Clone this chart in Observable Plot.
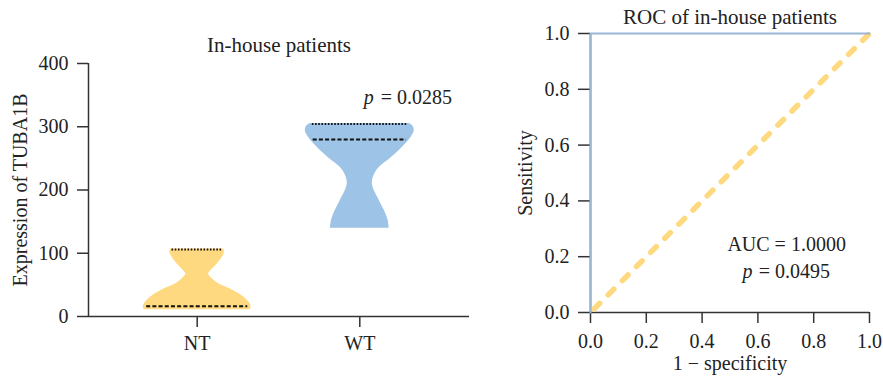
<!DOCTYPE html>
<html>
<head>
<meta charset="utf-8">
<script src="https://cdn.jsdelivr.net/npm/d3@7"></script>
<script src="https://cdn.jsdelivr.net/npm/@observablehq/plot@0.6"></script>
<style>
  html, body { margin: 0; padding: 0; background: #fff; }
  #wrap { position: relative; width: 883px; height: 381px; overflow: hidden; }
  #left, #right { position: absolute; top: 0; }
  #left { left: 0; }
  #right { left: 490px; }
</style>
</head>
<body>
<div id="wrap"><div id="left"></div><div id="right"></div></div>
<script>
// ---------- Data ----------
const categories = ["NT", "WT"];

// Violin outlines: expression values and relative density (1 = widest)
const ntValues  = [10.5, 15.8, 22.6, 27.9, 35.8, 43.6, 51.5, 59.4, 67.3, 75.2, 83.1, 93.6, 101, 106.7];
const ntDensity = [0.97, 0.99, 0.95, 0.89, 0.77, 0.61, 0.40, 0.28, 0.21, 0.28, 0.37, 0.46, 0.50, 0.49];
const wtValues  = [139.4, 151.6, 162.1, 172.6, 183.2, 196.3, 209.5, 222.6, 235.8, 249, 262.1, 272.6, 283.1, 293.7, 301.6, 305.2];
const wtDensity = [0.54, 0.52, 0.48, 0.42, 0.36, 0.28, 0.23, 0.26, 0.36, 0.55, 0.72, 0.84, 0.94, 1.0, 0.97, 0.91];

// Summary lines (dashed = median, dotted = upper quartile)
const medianValues = [16.3, 280];
const upperQuartileValues = [105.8, 304.2];

const yTicks = [0, 100, 200, 300, 400];
const pValueLeft = "0.0285";

// ROC
const rocFpr = [0, 0, 1];
const rocTpr = [0, 1, 1];
const chanceLine = [0, 1];
const rocTicks = [0, 0.2, 0.4, 0.6, 0.8, 1.0];
const aucText = "AUC = 1.0000";
const pValueRight = "0.0495";

// ---------- Helpers ----------
const yellow = "#FFD980";
const blue = "#9DC3E6";
const rocBlue = "#9AB6D5";
const axisColor = "#333";
const textColor = "#222";
const font = "'Liberation Serif', 'DejaVu Serif', serif";
const fs = 20;
const halfWidth = 0.335; // x-units for density 1

const profiles = [
  {values: ntValues, density: ntDensity, fill: yellow},
  {values: wtValues, density: wtDensity, fill: blue}
];

function densityAt(values, density, v) {
  if (v <= values[0]) return density[0];
  for (let i = 1; i < values.length; i++) {
    if (v <= values[i]) {
      const t = (v - values[i - 1]) / (values[i] - values[i - 1]);
      return density[i - 1] + t * (density[i] - density[i - 1]);
    }
  }
  return density[density.length - 1];
}

const violinRows = [];
profiles.forEach((p, i) => {
  p.values.forEach((v, j) => violinRows.push({cat: i + 1, value: v, d: p.density[j], fill: p.fill}));
});

function summaryRows(vals) {
  return vals.map((v, i) => {
    const p = profiles[i];
    const w = densityAt(p.values, p.density, v) * halfWidth * 0.94;
    return {cat: i + 1, value: v, x1: i + 1 - w, x2: i + 1 + w};
  });
}

const txt = {fill: textColor, fontSize: fs, lineAnchor: "middle"};
const ttl = {...txt, fontSize: 21};

// ---------- Left: violin plot ----------
const left = Plot.plot({
  width: 480, height: 381,
  marginLeft: 88, marginRight: 11, marginTop: 63, marginBottom: 65,
  style: {fontFamily: font, fontSize: fs + "px", color: textColor, background: "white", overflow: "visible"},
  x: {domain: [0.3315, 2.6747], axis: null},
  y: {domain: [0, 400], axis: null},
  marks: [
    ...profiles.map((p, i) =>
      Plot.areaX(violinRows.filter(r => r.cat === i + 1), {
        y: "value",
        x1: r => r.cat - r.d * halfWidth,
        x2: r => r.cat + r.d * halfWidth,
        fill: p.fill,
        curve: "catmull-rom"
      })
    ),
    Plot.ruleY(summaryRows(medianValues), {y: "value", x1: "x1", x2: "x2", stroke: "#111", strokeWidth: 2, strokeDasharray: "4,2.2"}),
    Plot.ruleY(summaryRows(upperQuartileValues), {y: "value", x1: "x1", x2: "x2", stroke: "#111", strokeWidth: 2, strokeDasharray: "1.6,1.6"}),
    Plot.ruleY([0], {stroke: axisColor, strokeWidth: 1.5}),
    Plot.ruleX([0.3315], {stroke: axisColor, strokeWidth: 1.5}),
    Plot.axisY({ticks: yTicks, tickSize: 11, tickPadding: 9, label: null, stroke: axisColor, strokeWidth: 1.5, fill: textColor, fontSize: fs}),
    Plot.axisX({ticks: [1, 2], tickFormat: i => categories[i - 1], tickSize: 11, tickPadding: 8, label: null, stroke: axisColor, strokeWidth: 1.5, fill: textColor, fontSize: fs}),
    Plot.text(["In-house patients"], {...ttl, frameAnchor: "top", dy: -18, text: d => d}),
    Plot.text(["Expression of TUBA1B"], {...txt, frameAnchor: "left", textAnchor: "middle", dx: -68, rotate: -90, text: d => d}),
    Plot.text([{x: 2, y: 346}], {...txt, x: "x", y: "y", text: () => "p", fontStyle: "italic", textAnchor: "end", dx: 14}),
    Plot.text([{x: 2, y: 346}], {...txt, x: "x", y: "y", text: () => "= " + pValueLeft, textAnchor: "start", dx: 21})
  ]
});
document.getElementById("left").appendChild(left);

// ---------- Right: ROC ----------
const rocRows = rocFpr.map((f, i) => ({fpr: f, tpr: rocTpr[i]}));
const chanceRows = chanceLine.map(v => ({fpr: v, tpr: v}));

const right = Plot.plot({
  width: 393, height: 381,
  marginLeft: 100, marginRight: 14, marginTop: 33, marginBottom: 69,
  style: {fontFamily: font, fontSize: fs + "px", color: textColor, background: "white", overflow: "visible"},
  x: {domain: [0, 1], axis: null},
  y: {domain: [0, 1], axis: null},
  marks: [
    Plot.ruleY([0], {stroke: axisColor, strokeWidth: 1.5}),
    Plot.ruleX([0], {stroke: axisColor, strokeWidth: 1.5}),
    Plot.axisY({ticks: rocTicks, tickFormat: d3.format(".1f"), tickSize: 12, tickPadding: 9, label: null, stroke: axisColor, strokeWidth: 1.5, fill: textColor, fontSize: fs}),
    Plot.axisX({ticks: rocTicks, tickFormat: d3.format(".1f"), tickSize: 11, tickPadding: 10, label: null, stroke: axisColor, strokeWidth: 1.5, fill: textColor, fontSize: fs}),
    Plot.line(chanceRows, {x: "fpr", y: "tpr", stroke: yellow, strokeWidth: 5.5, strokeDasharray: "8,12", strokeLinecap: "round", strokeDashoffset: -5}),
    Plot.line(rocRows, {x: "fpr", y: "tpr", stroke: rocBlue, strokeWidth: 2}),
    Plot.text(["ROC of in-house patients"], {...ttl, frameAnchor: "top", dy: -16, text: d => d}),
    Plot.text(["Sensitivity"], {...txt, frameAnchor: "left", textAnchor: "middle", dx: -65, rotate: -90, text: d => d}),
    Plot.text(["1 \u2212 specificity"], {...txt, frameAnchor: "bottom", dy: 51, text: d => d}),
    Plot.text([{x: 0.703, y: 0.242}], {...txt, x: "x", y: "y", text: () => aucText}),
    Plot.text([{x: 0.581, y: 0.145}], {...txt, x: "x", y: "y", text: () => "p", fontStyle: "italic", textAnchor: "end"}),
    Plot.text([{x: 0.603, y: 0.145}], {...txt, x: "x", y: "y", text: () => "= " + pValueRight, textAnchor: "start"})
  ]
});
document.getElementById("right").appendChild(right);
</script>
</body>
</html>
